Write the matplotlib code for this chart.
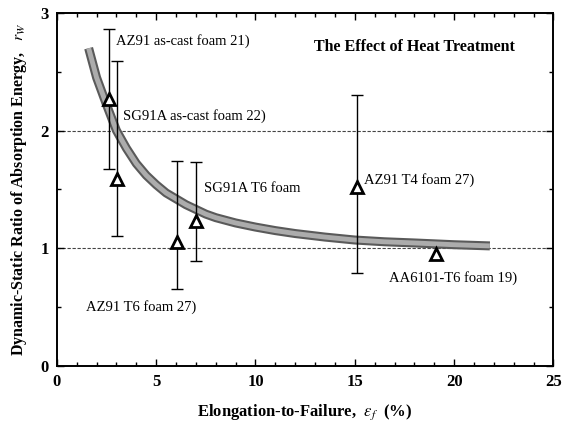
import matplotlib
matplotlib.use("Agg")
import matplotlib.pyplot as plt
import numpy as np

# data
elong = [2.62, 3.02, 6.03, 7.0, 15.1, 19.07]
ratio = [2.27, 1.59, 1.05, 1.23, 1.52, 0.95]
err_low = [1.67, 1.10, 0.65, 0.89, 0.79, np.nan]
err_high = [2.86, 2.59, 1.74, 1.73, 2.30, np.nan]

# fitted trend curve
fit_x = [1.6, 2.0, 2.5, 3.0, 3.5, 4.0, 4.5, 5.0, 5.5, 6.0, 6.5, 7.0, 7.5, 8.0,
         9.0, 10.0, 11.0, 12.0, 13.5, 15.0, 16.5, 18.0, 20.0, 21.8]
fit_y = [2.70, 2.45, 2.22, 2.00, 1.85, 1.72, 1.62, 1.54, 1.47, 1.42, 1.37, 1.33, 1.29, 1.26,
         1.215, 1.18, 1.15, 1.125, 1.095, 1.07, 1.055, 1.045, 1.03, 1.02]

labels = ["AZ91 as-cast foam 21)", "SG91A as-cast foam 22)", "AZ91 T6 foam 27)",
          "SG91A T6 foam", "AZ91 T4 foam 27)", "AA6101-T6 foam 19)"]
label_xy = [(3.0, 2.76), (3.32, 2.12), (1.49, 0.50), (7.41, 1.51), (15.48, 1.58), (16.72, 0.745)]

plt.rcParams["font.family"] = "Liberation Serif"
plt.rcParams["mathtext.fontset"] = "stix"

fig = plt.figure(figsize=(5.63, 4.30), dpi=100)
ax = fig.add_axes([0.101, 0.149, 0.882, 0.821])

# reference lines
for yl in [1, 2]:
    ax.axhline(yl, color="#444444", lw=0.8, ls=(0, (3, 1.5)), zorder=1)

# trend band
ax.plot(fit_x, fit_y, color="#5a5a5a", lw=6.5, solid_capstyle="butt",
        solid_joinstyle="round", zorder=2)
ax.plot(fit_x, fit_y, color="#acacac", lw=3.5, solid_capstyle="butt",
        solid_joinstyle="round", zorder=2)

x = np.array(elong)
y = np.array(ratio)
lo = np.array(err_low)
hi = np.array(err_high)
has = np.isfinite(lo)
ax.errorbar(x[has], y[has], yerr=[y[has] - lo[has], hi[has] - y[has]], fmt="none",
            ecolor="black", elinewidth=1.0, capsize=4, capthick=1.0, zorder=3)
ax.plot(x, y, ls="none", marker="^", ms=9, mfc="white", mec="black", mew=2.0, zorder=4)

for lab, (lx, ly) in zip(labels, label_xy):
    ax.text(lx, ly, lab, fontsize=10.5, va="center", ha="left", zorder=5)

ax.text(18.0, 2.71, "The Effect of Heat Treatment", fontsize=11.5, fontweight="bold",
        ha="center", va="center")

ax.set_xlim(0, 25)
ax.set_ylim(0, 3)
ax.set_xticks([0, 5, 10, 15, 20, 25])
ax.set_xticks(np.arange(0, 26, 1), minor=True)
ax.set_yticks([0, 1, 2, 3])
ax.set_yticks(np.arange(0, 3.01, 0.5), minor=True)
ax.tick_params(which="both", direction="in", top=True, right=True, width=1.0)
ax.tick_params(which="major", length=5, labelsize=12, pad=6)
ax.tick_params(which="minor", length=3)
for t in ax.get_xticklabels() + ax.get_yticklabels():
    t.set_fontweight("bold")
for s in ax.spines.values():
    s.set_linewidth(1.4)

ax.set_xlabel(r"Elongation-to-Failure,  $\varepsilon_f$  (%)", fontsize=12,
              fontweight="bold", labelpad=9)
ax.set_ylabel(r"Dynamic-Static Ratio of Absorption Energy,   $r_W$", fontsize=11.5,
              fontweight="bold", labelpad=8)

fig.savefig("out.png", dpi=100)
